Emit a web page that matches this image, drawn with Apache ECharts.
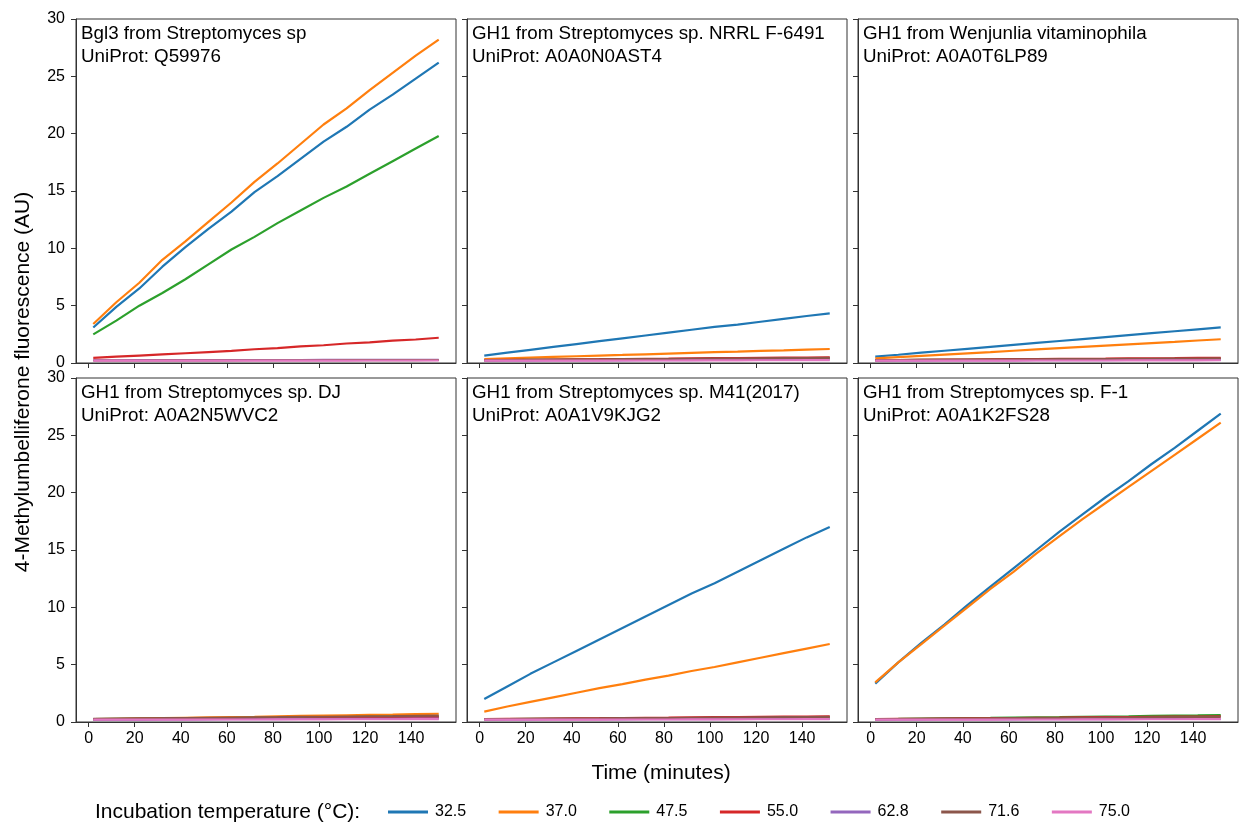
<!DOCTYPE html>
<html>
<head>
<meta charset="utf-8">
<script src="https://cdn.jsdelivr.net/npm/echarts@6/dist/echarts.min.js"></script>
<style>
html,body{margin:0;padding:0;background:#fff;}
#chart{width:1241px;height:822px;}
</style>
</head>
<body>
<div id="chart"></div>
<script>
// ---------- DATA ----------
const times = [2, 12, 22, 32, 42, 52, 62, 72, 82, 92, 102, 112, 122, 132, 142, 152];
const temps = ['32.5', '37.0', '47.5', '55.0', '62.8', '71.6', '75.0'];
const xTicks = [0, 20, 40, 60, 80, 100, 120, 140];
const panelTitles = [
  'Bgl3 from Streptomyces sp\nUniProt: Q59976',
  'GH1 from Streptomyces sp. NRRL F-6491\nUniProt: A0A0N0AST4',
  'GH1 from Wenjunlia vitaminophila\nUniProt: A0A0T6LP89',
  'GH1 from Streptomyces sp. DJ\nUniProt: A0A2N5WVC2',
  'GH1 from Streptomyces sp. M41(2017)\nUniProt: A0A1V9KJG2',
  'GH1 from Streptomyces sp. F-1\nUniProt: A0A1K2FS28'
];

// Panel 1: Bgl3 (Q59976)
const p1_325 = [3.1, 4.9, 6.5, 8.4, 10.1, 11.7, 13.2, 14.9, 16.3, 17.8, 19.3, 20.6, 22.1, 23.4, 24.8, 26.2];
const p1_370 = [3.4, 5.3, 7.0, 9.0, 10.6, 12.3, 14.0, 15.8, 17.4, 19.1, 20.8, 22.2, 23.8, 25.3, 26.8, 28.2];
const p1_475 = [2.5, 3.7, 5.0, 6.1, 7.3, 8.6, 9.9, 11.0, 12.2, 13.3, 14.4, 15.4, 16.5, 17.6, 18.7, 19.8];
const p1_550 = [0.45, 0.55, 0.65, 0.75, 0.85, 0.95, 1.05, 1.2, 1.3, 1.45, 1.55, 1.7, 1.8, 1.95, 2.05, 2.2];
const p1_628 = [0.24, 0.24, 0.25, 0.25, 0.25, 0.25, 0.26, 0.26, 0.26, 0.26, 0.27, 0.27, 0.27, 0.27, 0.28, 0.28];
const p1_716 = [0.22, 0.22, 0.22, 0.23, 0.23, 0.23, 0.23, 0.24, 0.24, 0.24, 0.24, 0.25, 0.25, 0.25, 0.25, 0.26];
const p1_750 = [0.2, 0.2, 0.2, 0.2, 0.2, 0.2, 0.21, 0.21, 0.21, 0.21, 0.21, 0.21, 0.22, 0.22, 0.22, 0.22];

// Panel 2: NRRL F-6491 (A0A0N0AST4)
const p2_325 = [0.65, 0.9, 1.15, 1.4, 1.65, 1.9, 2.15, 2.4, 2.65, 2.9, 3.15, 3.35, 3.6, 3.85, 4.1, 4.33];
const p2_370 = [0.35, 0.41, 0.47, 0.53, 0.59, 0.65, 0.7, 0.76, 0.82, 0.88, 0.94, 0.99, 1.05, 1.1, 1.16, 1.22];
const p2_475 = [0.25, 0.26, 0.27, 0.28, 0.29, 0.3, 0.31, 0.32, 0.33, 0.34, 0.35, 0.36, 0.37, 0.38, 0.39, 0.4];
const p2_550 = [0.25, 0.27, 0.28, 0.3, 0.32, 0.33, 0.35, 0.37, 0.38, 0.4, 0.42, 0.43, 0.45, 0.47, 0.48, 0.5];
const p2_628 = [0.2, 0.21, 0.21, 0.22, 0.22, 0.23, 0.23, 0.24, 0.25, 0.25, 0.26, 0.26, 0.27, 0.28, 0.29, 0.3];
const p2_716 = [0.25, 0.26, 0.28, 0.29, 0.3, 0.31, 0.33, 0.34, 0.35, 0.37, 0.38, 0.39, 0.41, 0.42, 0.43, 0.45];
const p2_750 = [0.2, 0.2, 0.2, 0.21, 0.21, 0.21, 0.22, 0.22, 0.22, 0.23, 0.23, 0.23, 0.24, 0.24, 0.25, 0.25];

// Panel 3: Wenjunlia vitaminophila (A0A0T6LP89)
const p3_325 = [0.55, 0.72, 0.9, 1.07, 1.24, 1.41, 1.58, 1.75, 1.92, 2.09, 2.26, 2.43, 2.6, 2.77, 2.94, 3.1];
const p3_370 = [0.4, 0.51, 0.62, 0.73, 0.84, 0.95, 1.07, 1.18, 1.29, 1.4, 1.51, 1.62, 1.73, 1.84, 1.96, 2.07];
const p3_475 = [0.25, 0.26, 0.27, 0.27, 0.28, 0.29, 0.3, 0.31, 0.31, 0.32, 0.33, 0.34, 0.34, 0.35, 0.36, 0.37];
const p3_550 = [0.25, 0.26, 0.28, 0.29, 0.3, 0.32, 0.33, 0.34, 0.36, 0.37, 0.38, 0.4, 0.41, 0.42, 0.44, 0.45];
const p3_628 = [0.2, 0.21, 0.21, 0.22, 0.22, 0.23, 0.23, 0.24, 0.24, 0.25, 0.25, 0.26, 0.26, 0.27, 0.27, 0.28];
const p3_716 = [0.25, 0.26, 0.27, 0.28, 0.29, 0.3, 0.31, 0.32, 0.33, 0.34, 0.35, 0.36, 0.37, 0.38, 0.39, 0.4];
const p3_750 = [0.2, 0.2, 0.2, 0.21, 0.21, 0.21, 0.21, 0.22, 0.22, 0.22, 0.22, 0.23, 0.23, 0.23, 0.23, 0.24];

// Panel 4: Streptomyces sp. DJ (A0A2N5WVC2)
const p4_325 = [0.22, 0.23, 0.23, 0.24, 0.25, 0.26, 0.26, 0.27, 0.28, 0.29, 0.3, 0.3, 0.31, 0.32, 0.33, 0.35];
const p4_370 = [0.25, 0.28, 0.31, 0.34, 0.37, 0.4, 0.43, 0.46, 0.5, 0.53, 0.56, 0.59, 0.62, 0.65, 0.69, 0.72];
const p4_475 = [0.25, 0.27, 0.28, 0.3, 0.32, 0.33, 0.35, 0.37, 0.38, 0.4, 0.42, 0.43, 0.45, 0.47, 0.48, 0.5];
const p4_550 = [0.25, 0.26, 0.28, 0.29, 0.3, 0.32, 0.33, 0.34, 0.36, 0.37, 0.38, 0.4, 0.41, 0.42, 0.44, 0.45];
const p4_628 = [0.2, 0.21, 0.21, 0.22, 0.23, 0.23, 0.24, 0.24, 0.25, 0.26, 0.26, 0.27, 0.28, 0.28, 0.29, 0.3];
const p4_716 = [0.28, 0.3, 0.32, 0.33, 0.35, 0.37, 0.39, 0.41, 0.42, 0.44, 0.46, 0.48, 0.5, 0.51, 0.53, 0.55];
const p4_750 = [0.2, 0.2, 0.21, 0.21, 0.21, 0.22, 0.22, 0.22, 0.23, 0.23, 0.23, 0.24, 0.24, 0.24, 0.25, 0.25];

// Panel 5: Streptomyces sp. M41(2017) (A0A1V9KJG2)
const p5_325 = [2.0, 3.1, 4.2, 5.2, 6.2, 7.2, 8.2, 9.2, 10.2, 11.2, 12.1, 13.1, 14.1, 15.1, 16.1, 17.0];
const p5_370 = [0.9, 1.35, 1.75, 2.15, 2.55, 2.95, 3.3, 3.7, 4.05, 4.45, 4.8, 5.2, 5.6, 6.0, 6.4, 6.8];
const p5_475 = [0.25, 0.26, 0.27, 0.28, 0.29, 0.3, 0.31, 0.32, 0.33, 0.34, 0.35, 0.36, 0.37, 0.38, 0.39, 0.4];
const p5_550 = [0.25, 0.27, 0.28, 0.3, 0.32, 0.33, 0.35, 0.37, 0.38, 0.4, 0.42, 0.43, 0.45, 0.47, 0.48, 0.5];
const p5_628 = [0.2, 0.21, 0.21, 0.22, 0.22, 0.23, 0.23, 0.24, 0.24, 0.25, 0.25, 0.26, 0.26, 0.27, 0.27, 0.28];
const p5_716 = [0.25, 0.26, 0.28, 0.29, 0.3, 0.31, 0.33, 0.34, 0.35, 0.37, 0.38, 0.39, 0.41, 0.42, 0.43, 0.45];
const p5_750 = [0.2, 0.2, 0.2, 0.21, 0.21, 0.21, 0.22, 0.22, 0.22, 0.23, 0.23, 0.23, 0.24, 0.24, 0.25, 0.25];

// Panel 6: Streptomyces sp. F-1 (A0A1K2FS28)
const p6_325 = [3.35, 5.2, 6.9, 8.5, 10.2, 11.8, 13.4, 15.0, 16.6, 18.1, 19.6, 21.0, 22.5, 23.9, 25.4, 26.9];
const p6_370 = [3.45, 5.2, 6.8, 8.4, 10.0, 11.6, 13.1, 14.7, 16.2, 17.7, 19.1, 20.5, 21.9, 23.3, 24.7, 26.1];
const p6_475 = [0.25, 0.27, 0.3, 0.32, 0.34, 0.36, 0.39, 0.41, 0.43, 0.46, 0.48, 0.5, 0.53, 0.55, 0.57, 0.6];
const p6_550 = [0.25, 0.27, 0.28, 0.3, 0.32, 0.33, 0.35, 0.37, 0.38, 0.4, 0.42, 0.43, 0.45, 0.47, 0.48, 0.5];
const p6_628 = [0.2, 0.21, 0.21, 0.22, 0.22, 0.23, 0.23, 0.24, 0.24, 0.25, 0.25, 0.26, 0.26, 0.27, 0.27, 0.28];
const p6_716 = [0.25, 0.26, 0.28, 0.29, 0.3, 0.31, 0.33, 0.34, 0.35, 0.37, 0.38, 0.39, 0.41, 0.42, 0.43, 0.45];
const p6_750 = [0.2, 0.2, 0.2, 0.21, 0.21, 0.21, 0.22, 0.22, 0.22, 0.23, 0.23, 0.23, 0.24, 0.24, 0.25, 0.25];

const panels = [
  [p1_325, p1_370, p1_475, p1_550, p1_628, p1_716, p1_750],
  [p2_325, p2_370, p2_475, p2_550, p2_628, p2_716, p2_750],
  [p3_325, p3_370, p3_475, p3_550, p3_628, p3_716, p3_750],
  [p4_325, p4_370, p4_475, p4_550, p4_628, p4_716, p4_750],
  [p5_325, p5_370, p5_475, p5_550, p5_628, p5_716, p5_750],
  [p6_325, p6_370, p6_475, p6_550, p6_628, p6_716, p6_750]
];

// ---------- STYLE / LAYOUT ----------
const colors = ['#1f77b4', '#ff7f0e', '#2ca02c', '#d62728', '#9467bd', '#8c564b', '#e377c2'];
const FONT = 'Liberation Sans, Arial, Helvetica, sans-serif';
const AXC = '#333333';
const colLeft = [76, 467, 858];
const rowTop = [19, 378];
const W = 380, H = 344;

const grids = [], xAxes = [], yAxes = [], series = [], titles = [];
for (let i = 0; i < 6; i++) {
  const r = Math.floor(i / 3), c = i % 3;
  grids.push({
    left: colLeft[c], top: rowTop[r], width: W, height: H,
    show: true, borderColor: AXC, borderWidth: 1, backgroundColor: 'transparent',
    containLabel: false, outerBoundsMode: 'none'
  });
  xAxes.push({
    gridIndex: i, type: 'value', min: -5.5, max: 159.5,
    axisLine: { show: true, onZero: false, lineStyle: { color: AXC, width: 1 } },
    axisTick: { show: true, customValues: xTicks, length: 5, inside: false, lineStyle: { color: AXC } },
    axisLabel: { show: r === 1, customValues: xTicks, fontSize: 16, color: '#000', margin: 9, fontFamily: FONT },
    splitLine: { show: false }
  });
  yAxes.push({
    gridIndex: i, type: 'value', min: 0, max: 30, interval: 5,
    axisLine: { show: true, onZero: false, lineStyle: { color: AXC, width: 1 } },
    axisTick: { show: true, length: 5, inside: false, lineStyle: { color: AXC } },
    axisLabel: { show: c === 0, fontSize: 16, color: '#000', margin: 11, fontFamily: FONT },
    splitLine: { show: false }
  });
  panels[i].forEach((vals, k) => {
    series.push({
      name: temps[k], type: 'line', xAxisIndex: i, yAxisIndex: i,
      data: times.map((t, j) => [t, vals[j]]),
      symbol: 'none', showSymbol: false, smooth: false,
      lineStyle: { width: 2.2, color: colors[k] },
      itemStyle: { color: colors[k] },
      emphasis: { disabled: true },
      animation: false, z: 2 + k
    });
  });
  titles.push({
    text: panelTitles[i], left: colLeft[c] + 5, top: rowTop[r] + 3,
    padding: 0,
    textStyle: { fontSize: 18.8, fontWeight: 'normal', color: '#000', lineHeight: 23, fontFamily: FONT }
  });
}

const chart = echarts.init(document.getElementById('chart'), null, { renderer: 'canvas' });
chart.setOption({
  backgroundColor: '#fff',
  animation: false,
  color: colors,
  title: titles,
  grid: grids,
  xAxis: xAxes,
  yAxis: yAxes,
  series: series,
  legend: {
    data: temps, left: 388, top: 804, orient: 'horizontal', padding: 0,
    icon: 'rect', itemWidth: 40, itemHeight: 3, itemGap: 32.5,
    textStyle: { fontSize: 16, color: '#000', fontFamily: FONT, padding: [0, 0, 0, 2] }
  },
  graphic: [
    { type: 'text', x: 23, y: 382, rotation: Math.PI / 2,
      style: { text: '4-Methylumbelliferone fluorescence (AU)', fontSize: 21, fill: '#000',
               fontFamily: FONT, textAlign: 'center', textVerticalAlign: 'middle' } },
    { type: 'text', x: 661, y: 773,
      style: { text: 'Time (minutes)', fontSize: 21, fill: '#000', fontFamily: FONT,
               textAlign: 'center', textVerticalAlign: 'middle' } },
    { type: 'text', x: 95, y: 812,
      style: { text: 'Incubation temperature (°C):', fontSize: 21, fill: '#000', fontFamily: FONT,
               textAlign: 'left', textVerticalAlign: 'middle' } }
  ]
});
</script>
</body>
</html>
